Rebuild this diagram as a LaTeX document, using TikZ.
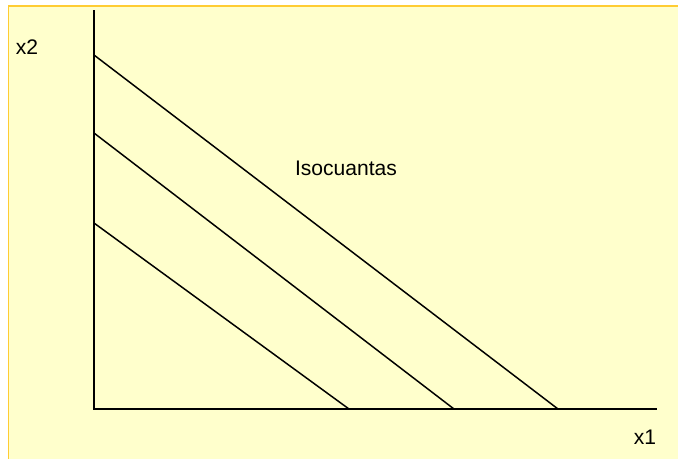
\documentclass[tikz,border=0pt]{standalone}
\usepackage{fontspec}
\setmainfont{Liberation Sans}
\usepackage{xcolor}
\usetikzlibrary{positioning}
\definecolor{paper}{HTML}{FFFFCC}
\definecolor{frame}{HTML}{FFCC33}

\begin{document}
\begin{tikzpicture}[
    x=0.02cm, y=-0.02cm,
    axis/.style={draw, line width=1.1pt},
    iso/.style={draw, line width=0.85pt},
    lbl/.style={font=\fontsize{12}{14}\selectfont, inner sep=0pt}
]
\useasboundingbox (0,0) rectangle (678,458);
\fill[white] (0,0) rectangle (678,458);
\draw[fill=paper, draw=frame, line width=0.6pt] (8.5,6) rectangle (690,470);

\coordinate (top) at (94,10);
\coordinate (origin) at (94,409);
\coordinate (right) at (657,409);

\coordinate (a3) at (94,55);
\coordinate (b3) at (558,409);
\coordinate (a2) at (94,133);
\coordinate (b2) at (454,409);
\coordinate (a1) at (94,223);
\coordinate (b1) at (349,409);

\draw[axis] (top) -- (origin) -- (right);

\draw[iso] (a3) -- (b3);
\draw[iso] (a2) -- (b2);
\draw[iso] (a1) -- (b1);

\node[lbl] (ylab) at (27,47) {x2};
\node[lbl] (xlab) at (645,437) {x1};
\node[lbl] (name) at (346,168) {Isocuantas};
\end{tikzpicture}
\end{document}
